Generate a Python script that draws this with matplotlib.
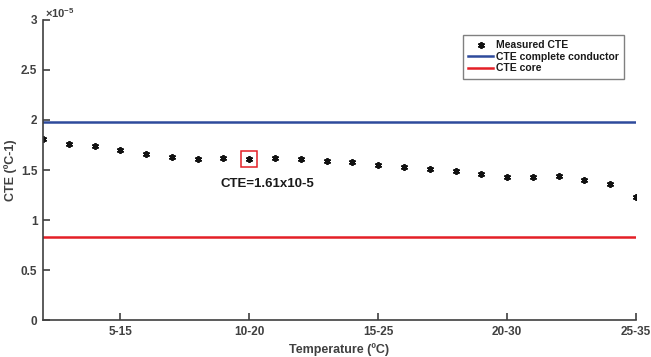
import matplotlib.pyplot as plt
import matplotlib.ticker as mticker

plt.rcParams['font.family'] = ['Liberation Sans', 'DejaVu Sans']
plt.rcParams['font.weight'] = 'bold'
plt.rcParams['mathtext.default'] = 'regular'

# measured CTE per temperature window (1/ºC)
cte_measured = [1.807, 1.760, 1.740, 1.697, 1.663, 1.633, 1.613, 1.620,
                1.610, 1.620, 1.610, 1.587, 1.583, 1.553, 1.530, 1.510,
                1.493, 1.460, 1.427, 1.433, 1.443, 1.400, 1.360, 1.233]
cte_measured = [v * 1e-5 for v in cte_measured]
window_index = list(range(1, len(cte_measured) + 1))
cte_conductor = 1.98e-5
cte_core = 0.83e-5
tick_pos = [4, 9, 14, 19, 24]
tick_labels = ['5-15', '10-20', '15-25', '20-30', '25-35']
marked_idx = 8
marked_label = 'CTE=1.61x10-5'

axis_grey = '#404040'

fig = plt.figure(figsize=(6.51, 3.57), dpi=100)
ax = fig.add_axes([0.066, 0.1036, 0.911, 0.8404])

# six-armed asterisk marker
ax.plot(window_index, cte_measured, linestyle='none', marker=(6, 2, 0),
        markersize=5, markeredgewidth=1.3, color='#111111',
        label='Measured CTE')
ax.axhline(cte_conductor, color='#2E4A9C', linewidth=1.8,
           label='CTE complete conductor')
ax.axhline(cte_core, color='#E41F26', linewidth=1.8, label='CTE core')

# highlight one reading
ax.plot(window_index[marked_idx], cte_measured[marked_idx], marker='s',
        markersize=11.5, markerfacecolor='none', markeredgecolor='#E41F26',
        markeredgewidth=1.1, linestyle='none')
ax.text(window_index[marked_idx] - 1.1, cte_measured[marked_idx] - 0.25e-5,
        marked_label, fontsize=9.5, fontweight='bold', color='#1a1a1a',
        va='center', ha='left')

ax.set_xlim(1, 24)
ax.set_ylim(0, 3e-5)
ax.set_xticks(tick_pos)
ax.set_xticklabels(tick_labels)
ax.set_yticks([i * 0.5e-5 for i in range(7)])
ax.yaxis.set_major_formatter(
    mticker.FuncFormatter(lambda v, _: f'{v * 1e5:g}'))
ax.text(0.003, 1.0, r'$\times10^{-5}$', transform=ax.transAxes,
        fontsize=8, color=axis_grey, ha='left', va='bottom')

for side in ('top', 'right'):
    ax.spines[side].set_visible(False)
for side in ('left', 'bottom'):
    ax.spines[side].set_color(axis_grey)
    ax.spines[side].set_linewidth(1.2)
ax.tick_params(direction='in', length=5, width=1.2, colors=axis_grey,
               labelsize=8.5, pad=4)
for lbl in ax.get_xticklabels() + ax.get_yticklabels():
    lbl.set_fontweight('bold')

ax.set_xlabel('Temperature (ºC)', fontsize=9, fontweight='bold',
              color=axis_grey, labelpad=4)
ax.set_ylabel('CTE (ºC-1)', fontsize=9, fontweight='bold',
              color=axis_grey, labelpad=3)

leg = ax.legend(loc='upper right', bbox_to_anchor=(0.98, 0.95),
                fontsize=7.5, frameon=True, fancybox=False,
                borderpad=0.5, labelspacing=0.15, handlelength=2.4,
                handletextpad=0.25, borderaxespad=0)
leg.get_frame().set_edgecolor('#606060')
leg.get_frame().set_linewidth(1.0)
for t in leg.get_texts():
    t.set_fontweight('bold')
    t.set_color('#1a1a1a')

fig.savefig('out.png', dpi=100)
